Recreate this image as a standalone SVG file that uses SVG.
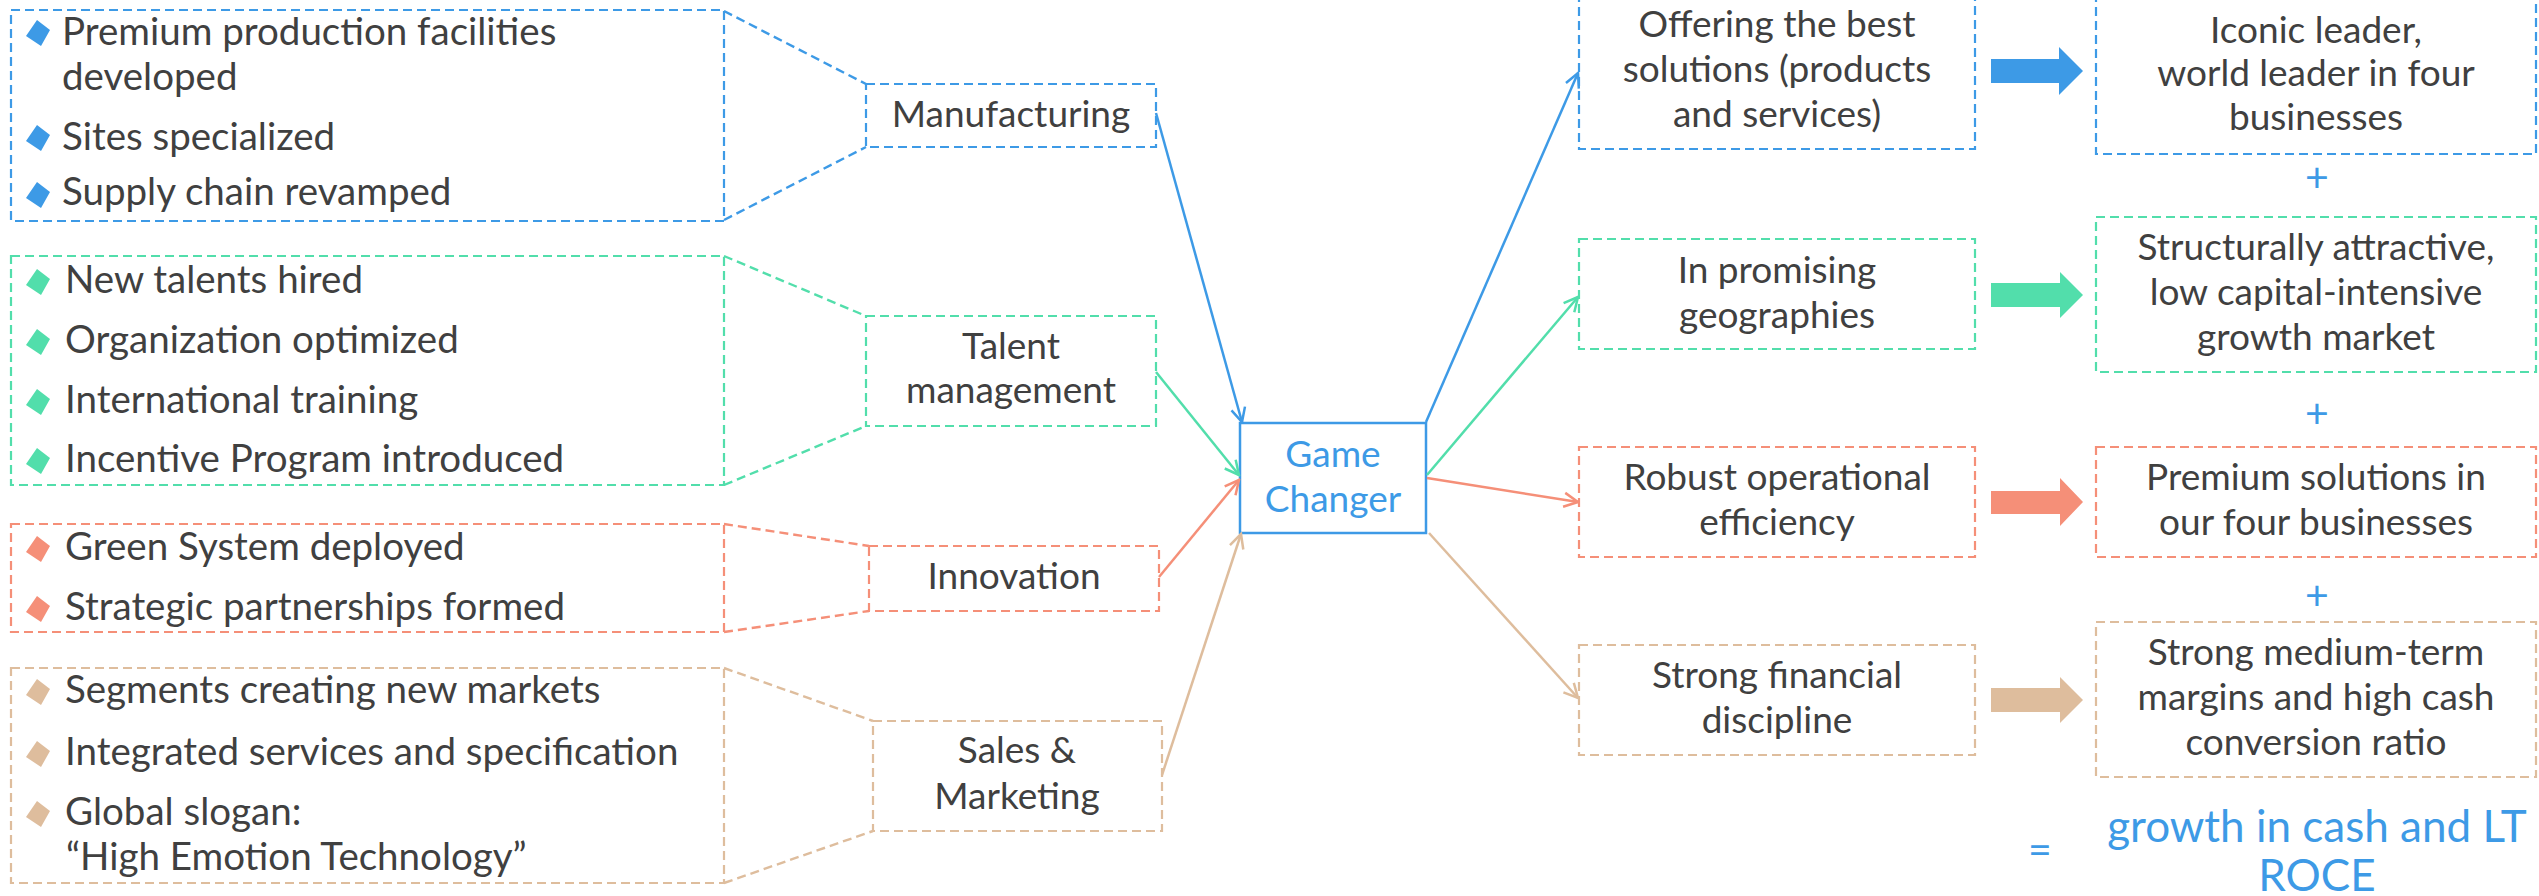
<svg xmlns="http://www.w3.org/2000/svg" width="2539" height="896" viewBox="0 0 2539 896">
  <style>
    .t{font-family:"Lato","Liberation Sans",sans-serif;font-size:37px;fill:#404040}
    .li{font-size:38.5px}
    .m{text-anchor:middle}
    .hl{fill:#3D9AE6}
    .big{font-size:41px}
    .res{font-size:44px}
    .box{fill:none;stroke-width:2.2;stroke-dasharray:9 5}
    .lk{fill:none;stroke-width:2.4;stroke-dasharray:9 5}
    .ar{fill:none;stroke-width:2.5}
    .b{stroke:#3D9AE6}
    .g{stroke:#52DEAB}
    .r{stroke:#F58F78}
    .n{stroke:#DEBD9D}
    .fb{fill:#3D9AE6}
    .fg{fill:#52DEAB}
    .fr{fill:#F58F78}
    .fn{fill:#DEBD9D}
  </style>
  <defs>
    <path id="bul" d="M-1,-13 L12,-3 L3,13 L-12,3 Z"/>
    <marker id="hb" markerUnits="userSpaceOnUse" viewBox="0 0 18 18" markerWidth="18" markerHeight="18" refX="16" refY="9" orient="auto"><path d="M2,2 L16,9 L2,16" fill="none" stroke="#3D9AE6" stroke-width="2.5"/></marker>
    <marker id="hg" markerUnits="userSpaceOnUse" viewBox="0 0 18 18" markerWidth="18" markerHeight="18" refX="16" refY="9" orient="auto"><path d="M2,2 L16,9 L2,16" fill="none" stroke="#52DEAB" stroke-width="2.5"/></marker>
    <marker id="hr" markerUnits="userSpaceOnUse" viewBox="0 0 18 18" markerWidth="18" markerHeight="18" refX="16" refY="9" orient="auto"><path d="M2,2 L16,9 L2,16" fill="none" stroke="#F58F78" stroke-width="2.5"/></marker>
    <marker id="hn" markerUnits="userSpaceOnUse" viewBox="0 0 18 18" markerWidth="18" markerHeight="18" refX="16" refY="9" orient="auto"><path d="M2,2 L16,9 L2,16" fill="none" stroke="#DEBD9D" stroke-width="2.5"/></marker>
  </defs>

  <!-- detail lists -->
  <g id="list-manufacturing">
    <rect class="box b" x="11" y="10" width="713" height="211"/>
    <use href="#bul" class="fb" x="38" y="33"/>
    <use href="#bul" class="fb" x="38" y="138"/>
    <use href="#bul" class="fb" x="38" y="195"/>
    <text class="t li" x="62" y="45">Premium production facilities</text>
    <text class="t li" x="62" y="90">developed</text>
    <text class="t li" x="62" y="150">Sites specialized</text>
    <text class="t li" x="62" y="205">Supply chain revamped</text>
  </g>
  <g id="list-talent">
    <rect class="box g" x="11" y="256" width="713" height="229"/>
    <use href="#bul" class="fg" x="38" y="282"/>
    <use href="#bul" class="fg" x="38" y="342"/>
    <use href="#bul" class="fg" x="38" y="402"/>
    <use href="#bul" class="fg" x="38" y="461"/>
    <text class="t li" x="65" y="293">New talents hired</text>
    <text class="t li" x="65" y="353">Organization optimized</text>
    <text class="t li" x="65" y="413">International training</text>
    <text class="t li" x="65" y="472">Incentive Program introduced</text>
  </g>
  <g id="list-innovation">
    <rect class="box r" x="11" y="524" width="713" height="108"/>
    <use href="#bul" class="fr" x="38" y="549"/>
    <use href="#bul" class="fr" x="38" y="609"/>
    <text class="t li" x="65" y="560">Green System deployed</text>
    <text class="t li" x="65" y="620">Strategic partnerships formed</text>
  </g>
  <g id="list-sales">
    <rect class="box n" x="11" y="668" width="713" height="215"/>
    <use href="#bul" class="fn" x="38" y="692"/>
    <use href="#bul" class="fn" x="38" y="754"/>
    <use href="#bul" class="fn" x="38" y="814"/>
    <text class="t li" x="65" y="703">Segments creating new markets</text>
    <text class="t li" x="65" y="765">Integrated services and specification</text>
    <text class="t li" x="65" y="825">Global slogan:</text>
    <text class="t li" x="66" y="870">“High Emotion Technology”</text>
  </g>

  <!-- levers -->
  <g id="manufacturing">
    <rect class="box b" x="866" y="84" width="290" height="63"/>
    <text class="t m" x="1011" y="127">Manufacturing</text>
  </g>
  <g id="talent">
    <rect class="box g" x="866" y="316" width="290" height="110"/>
    <text class="t m" x="1011" y="359">Talent</text>
    <text class="t m" x="1011" y="403">management</text>
  </g>
  <g id="innovation">
    <rect class="box r" x="869" y="546" width="290" height="65"/>
    <text class="t m" x="1014" y="589">Innovation</text>
  </g>
  <g id="sales">
    <rect class="box n" x="873" y="721" width="289" height="110"/>
    <text class="t m" x="1017" y="763">Sales &amp;</text>
    <text class="t m" x="1017" y="809">Marketing</text>
  </g>

  <!-- hub -->
  <g id="game-changer">
    <rect x="1240" y="423" width="186" height="110" fill="none" stroke="#3D9AE6" stroke-width="2.5"/>
    <text class="t m hl" x="1333" y="467">Game</text>
    <text class="t m hl" x="1333" y="512">Changer</text>
  </g>

  <!-- pillars -->
  <g id="offering">
    <rect class="box b" x="1579" y="-4" width="396" height="153"/>
    <text class="t m" x="1777" y="37">Offering the best</text>
    <text class="t m" x="1777" y="82">solutions (products</text>
    <text class="t m" x="1777" y="127">and services)</text>
  </g>
  <g id="geographies">
    <rect class="box g" x="1579" y="239" width="396" height="110"/>
    <text class="t m" x="1777" y="283">In promising</text>
    <text class="t m" x="1777" y="328">geographies</text>
  </g>
  <g id="efficiency">
    <rect class="box r" x="1579" y="447" width="396" height="110"/>
    <text class="t m" x="1777" y="490">Robust operational</text>
    <text class="t m" x="1777" y="535">efficiency</text>
  </g>
  <g id="discipline">
    <rect class="box n" x="1579" y="645" width="396" height="110"/>
    <text class="t m" x="1777" y="688">Strong financial</text>
    <text class="t m" x="1777" y="733">discipline</text>
  </g>

  <!-- outcomes -->
  <g id="iconic">
    <rect class="box b" x="2096" y="-4" width="440" height="158"/>
    <text class="t m" x="2316" y="43">Iconic leader,</text>
    <text class="t m" x="2316" y="86">world leader in four</text>
    <text class="t m" x="2316" y="130">businesses</text>
  </g>
  <g id="structural">
    <rect class="box g" x="2096" y="217" width="440" height="155"/>
    <text class="t m" x="2316" y="260">Structurally attractive,</text>
    <text class="t m" x="2316" y="305">low capital-intensive</text>
    <text class="t m" x="2316" y="350">growth market</text>
  </g>
  <g id="premium">
    <rect class="box r" x="2096" y="447" width="440" height="110"/>
    <text class="t m" x="2316" y="490">Premium solutions in</text>
    <text class="t m" x="2316" y="535">our four businesses</text>
  </g>
  <g id="margins">
    <rect class="box n" x="2096" y="622" width="440" height="155"/>
    <text class="t m" x="2316" y="665">Strong medium-term</text>
    <text class="t m" x="2316" y="710">margins and high cash</text>
    <text class="t m" x="2316" y="755">conversion ratio</text>
  </g>

  <!-- operators and result -->
  <g id="sum">
    <text class="t m hl big" x="2317" y="192">+</text>
    <text class="t m hl big" x="2317" y="428">+</text>
    <text class="t m hl big" x="2317" y="610">+</text>
    <text class="t m hl big" x="2040" y="864">=</text>
    <text class="t m hl res" x="2317" y="842">growth in cash and LT</text>
    <text class="t m hl res" x="2317" y="891">ROCE</text>
  </g>

  <!-- connectors -->
  <g id="connectors">
    <line class="lk b" x1="724" y1="11" x2="866" y2="84"/>
    <line class="lk b" x1="724" y1="220" x2="866" y2="147"/>
    <line class="lk g" x1="724" y1="256" x2="866" y2="316"/>
    <line class="lk g" x1="724" y1="485" x2="866" y2="426"/>
    <line class="lk r" x1="724" y1="524" x2="869" y2="546"/>
    <line class="lk r" x1="724" y1="632" x2="869" y2="611"/>
    <line class="lk n" x1="724" y1="668" x2="873" y2="721"/>
    <line class="lk n" x1="724" y1="883" x2="873" y2="831"/>

    <line class="ar b" x1="1156" y1="113" x2="1242" y2="422" marker-end="url(#hb)"/>
    <line class="ar g" x1="1156" y1="372" x2="1239" y2="475" marker-end="url(#hg)"/>
    <line class="ar r" x1="1159" y1="577" x2="1239" y2="480" marker-end="url(#hr)"/>
    <line class="ar n" x1="1162" y1="775" x2="1241" y2="534" marker-end="url(#hn)"/>

    <line class="ar b" x1="1426" y1="422" x2="1578" y2="73" marker-end="url(#hb)"/>
    <line class="ar g" x1="1427" y1="475" x2="1578" y2="297" marker-end="url(#hg)"/>
    <line class="ar r" x1="1427" y1="478" x2="1578" y2="502" marker-end="url(#hr)"/>
    <line class="ar n" x1="1429" y1="533" x2="1578" y2="698" marker-end="url(#hn)"/>

    <polygon class="fb" points="1991,59 2059,59 2059,47 2083,71 2059,95 2059,83 1991,83"/>
    <polygon class="fg" points="1991,283 2060,283 2060,272 2083,295 2060,318 2060,307 1991,307"/>
    <polygon class="fr" points="1991,491 2060,491 2060,478 2083,502 2060,526 2060,514 1991,514"/>
    <polygon class="fn" points="1991,688 2060,688 2060,677 2083,700 2060,723 2060,712 1991,712"/>
  </g>
</svg>
